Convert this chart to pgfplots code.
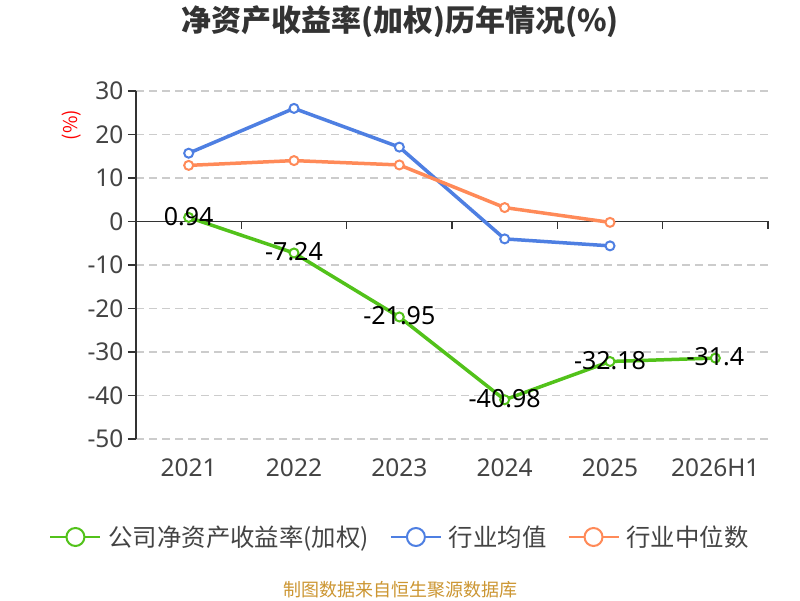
\documentclass[border=0pt]{standalone}
\usepackage{pgfplots}
\pgfplotsset{compat=1.18}
\usepackage{pgfplotstable}
\usepackage{fontspec}
\setmainfont{Noto Sans}
\newfontfamily\cjk{Noto Sans CJK SC}
\definecolor{cgreen}{RGB}{82,194,26}
\definecolor{cblue}{RGB}{78,127,226}
\definecolor{corange}{RGB}{255,138,88}
\definecolor{ctext}{RGB}{68,68,68}
\definecolor{caxis}{RGB}{51,51,51}
\definecolor{cgrid}{RGB}{204,204,204}
\definecolor{csrc}{RGB}{204,150,50}

\pgfplotstableread{
x y label
0 0.94 0.94
1 -7.24 -7.24
2 -21.95 -21.95
3 -40.98 -40.98
4 -32.18 -32.18
5 -31.4 -31.4
}\company
\pgfplotstableread{
x y
0 15.7
1 26.0
2 17.1
3 -4.0
4 -5.6
}\indmean
\pgfplotstableread{
x y
0 12.9
1 14.0
2 13.0
3 3.2
4 -0.2
}\indmedian

\begin{document}
\begin{tikzpicture}[x=1pt,y=1pt]
\fill[white] (0,0) rectangle (800,600);
\useasboundingbox (0,0) rectangle (800,600);
\node[font=\cjk\bfseries\fontsize{30pt}{34pt}\selectfont, text=caxis] at (400,578) {净资产收益率(加权)历年情况(\%)};
\node[font=\cjk\fontsize{18pt}{21pt}\selectfont, text=csrc] at (400,10) {制图数据来自恒生聚源数据库};
\node[font=\cjk\fontsize{19pt}{22pt}\selectfont, text=red, rotate=90] at (72,475) {(\%)};
\begin{axis}[
  scale only axis, width=632pt, height=348pt,
  at={(136pt,161pt)}, anchor=south west,
  xmin=-0.5, xmax=5.5, ymin=-50, ymax=30,
  clip=false,
  axis x line*=bottom, x axis line style={draw=none},
  axis y line*=left, y axis line style={caxis, line width=1.5pt, -},
  xtick={0,1,2,3,4,5},
  xticklabels={2021,2022,2023,2024,2025,2026H1},
  ytick={-50,-40,-30,-20,-10,0,10,20,30},
  yticklabels={-50,-40,-30,-20,-10,0,10,20,30},
  x tick style={draw=none},
  y tick style={caxis, line width=1.5pt},
  tick align=outside, major tick length=8pt,
  ymajorgrids,
  grid style={cgrid, dash pattern=on 8pt off 5pt, line width=1.2pt},
  ticklabel style={font=\fontsize{24.5pt}{28pt}\selectfont, text=ctext},
  xticklabel style={yshift=-8pt},
  yticklabel style={xshift=-1pt},
  legend style={at={(axis description cs:0.4177,-0.2816)}, anchor=center,
    draw=none, fill=none, legend columns=3,
    font=\cjk\fontsize{24.4pt}{28pt}\selectfont, text=ctext,
    /tikz/every odd column/.append style={column sep=5pt},
    /tikz/every even column/.append style={column sep=19pt}},
]
\draw[caxis, line width=1.5pt] (axis cs:-0.5,0) -- (axis cs:5.5,0);
\pgfplotsinvokeforeach{0.5,1.5,2.5,3.5,4.5,5.5}{
  \draw[caxis, line width=1.5pt] (axis cs:#1,0) -- ([yshift=-8pt]axis cs:#1,0);
}
\addplot[cgreen, line width=3.5pt, mark=*, mark size=4.5pt,
  mark options={fill=white, line width=2pt},
  point meta=explicit symbolic,
  nodes near coords,
  nodes near coords style={anchor=center, yshift=1pt, text=black, font=\fontsize{25pt}{29pt}\selectfont},
  legend image code/.code={\draw[line width=2pt] (0pt,0pt) -- (50pt,0pt); \draw[line width=2pt, fill=white] (25pt,0pt) circle (9pt);}
] table[x=x, y=y, meta=label] {\company};
\addlegendentry{公司净资产收益率(加权)}
\addplot[cblue, line width=3.5pt, mark=*, mark size=4.5pt,
  mark options={fill=white, line width=2pt},
  legend image code/.code={\draw[line width=2pt] (0pt,0pt) -- (50pt,0pt); \draw[line width=2pt, fill=white] (25pt,0pt) circle (9pt);}
] table[x=x, y=y] {\indmean};
\addlegendentry{行业均值}
\addplot[corange, line width=3.5pt, mark=*, mark size=4.5pt,
  mark options={fill=white, line width=2pt},
  legend image code/.code={\draw[line width=2pt] (0pt,0pt) -- (50pt,0pt); \draw[line width=2pt, fill=white] (25pt,0pt) circle (9pt);}
] table[x=x, y=y] {\indmedian};
\addlegendentry{行业中位数}
\end{axis}
\end{tikzpicture}
\end{document}
